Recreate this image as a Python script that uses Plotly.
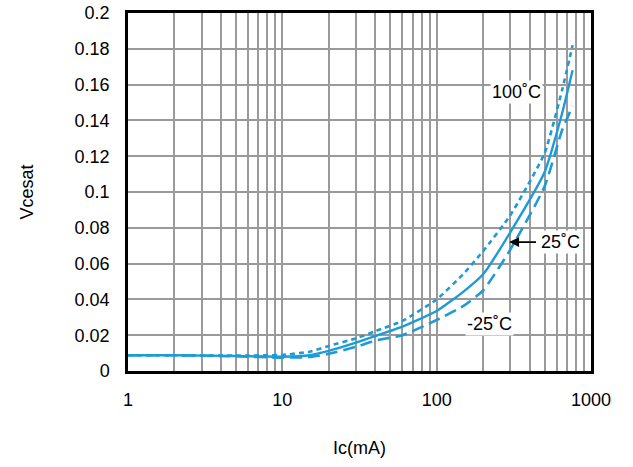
import math
import plotly.graph_objects as go

ic_ma = [1, 2, 5, 10, 15, 20, 30, 40, 60, 100, 150, 200, 300, 500, 650, 760]
v_25 = [0.0088, 0.0088, 0.0084, 0.0080, 0.0088, 0.0112, 0.0158, 0.0195, 0.0248, 0.0335, 0.0445, 0.0540, 0.0775, 0.1110, 0.1440, 0.1680]
v_100 = [0.0088, 0.0088, 0.0086, 0.0090, 0.0108, 0.0140, 0.0182, 0.0222, 0.0280, 0.0400, 0.0545, 0.0670, 0.0870, 0.1216, 0.1570, 0.1820]
v_m25 = [0.0088, 0.0088, 0.0082, 0.0075, 0.0078, 0.0096, 0.0135, 0.0170, 0.0200, 0.0285, 0.0365, 0.0450, 0.0678, 0.1030, 0.1346, 0.1480]

y_ticks = [0, 0.02, 0.04, 0.06, 0.08, 0.1, 0.12, 0.14, 0.16, 0.18, 0.2]
y_tick_text = ["0", "0.02", "0.04", "0.06", "0.08", "0.1", "0.12", "0.14", "0.16", "0.18", "0.2"]
x_ticks = [1, 10, 100, 1000]
x_tick_text = ["1", "10", "100", "1000"]

blue = "#1E9BD7"
font = "Liberation Sans, Arial, sans-serif"
lg = math.log10

fig = go.Figure()
fig.add_trace(go.Scatter(x=ic_ma, y=v_100, mode="lines", line=dict(color=blue, width=2.6, dash="5px,4px", shape="spline", smoothing=0.5), name="100C"))
fig.add_trace(go.Scatter(x=ic_ma, y=v_25, mode="lines", line=dict(color=blue, width=2.4, shape="spline", smoothing=0.5), name="25C"))
fig.add_trace(go.Scatter(x=ic_ma, y=v_m25, mode="lines", line=dict(color=blue, width=2.6, dash="12px,6px", shape="spline", smoothing=0.5), name="-25C"))

fig.add_annotation(x=lg(330), y=0.156, xref="x", yref="y", text="100˚C", showarrow=False,
                   bgcolor="white", font=dict(size=18, color="black", family=font))
fig.add_annotation(x=lg(219), y=0.026, xref="x", yref="y", text="-25˚C", showarrow=False,
                   bgcolor="white", font=dict(size=18, color="black", family=font))
fig.add_annotation(x=lg(630), y=0.072, xref="x", yref="y", text="25˚C", showarrow=False,
                   bgcolor="white", font=dict(size=18, color="black", family=font))
fig.add_annotation(x=lg(295), y=0.072, ax=lg(450), ay=0.072, xref="x", yref="y", axref="x", ayref="y",
                   text="", showarrow=True, arrowhead=2, arrowsize=1.1, arrowwidth=1.8, arrowcolor="black")

fig.update_layout(
    width=633, height=467,
    margin=dict(l=128, r=42, t=13, b=96, autoexpand=False),
    paper_bgcolor="white", plot_bgcolor="white",
    showlegend=False,
    font=dict(family=font, size=18, color="black"),
    xaxis=dict(
        type="log", range=[0, 3],
        tickvals=x_ticks, ticktext=x_tick_text,
        showgrid=True, gridcolor="#9a9a9a", gridwidth=1.5,
        minor=dict(showgrid=True, gridcolor="#9a9a9a", gridwidth=1.5, dtick="D1"),
        showline=True, linecolor="black", linewidth=2.5, mirror=True,
        ticks="", ticklabelstandoff=11, ticklabeloverflow="allow",
        title=dict(text="Ic(mA)", standoff=33, font=dict(size=18)),
        zeroline=False,
    ),
    yaxis=dict(
        range=[0, 0.2],
        tickvals=y_ticks, ticktext=y_tick_text,
        showgrid=True, gridcolor="#9a9a9a", gridwidth=1.5,
        showline=True, linecolor="black", linewidth=2.5, mirror=True,
        ticks="", ticklabelstandoff=12, ticklabeloverflow="allow",
        title=dict(text="Vcesat", standoff=37, font=dict(size=18)),
        zeroline=False,
    ),
)

fig.write_html("out.html", config={"displayModeBar": False},
               post_script="document.body.style.margin='0';")
